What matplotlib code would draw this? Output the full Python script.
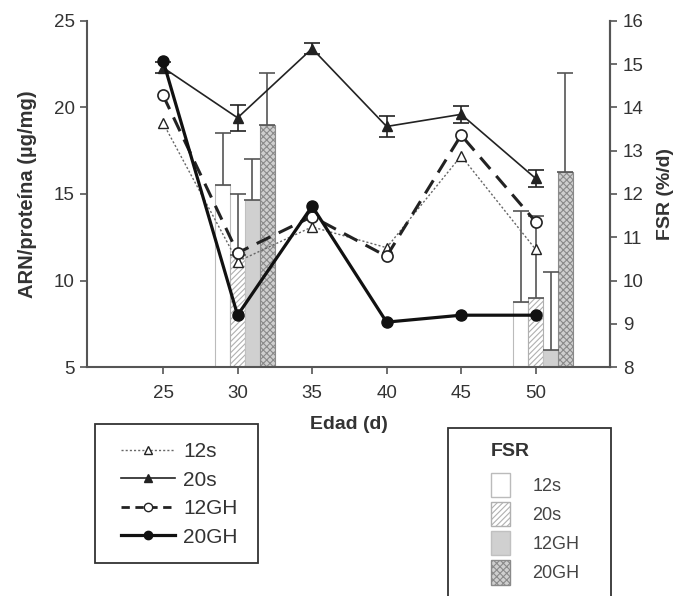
import matplotlib
matplotlib.use("Agg")
import matplotlib.pyplot as plt
from matplotlib.lines import Line2D
from matplotlib.patches import Patch, Rectangle

plt.rcParams['font.family'] = ['Liberation Sans', 'DejaVu Sans']
plt.rcParams['hatch.linewidth'] = 0.8

# ARN/proteína por edad (µg/mg)
ages = [25, 30, 35, 40, 45, 50]
arn_12s = [19.1, 11.1, 13.1, 11.9, 17.2, 11.8]
arn_20s = [22.3, 19.4, 23.4, 18.9, 19.6, 15.9]
arn_20s_err = [0.3, 0.75, 0.3, 0.6, 0.5, 0.5]
arn_12gh = [20.7, 11.6, 13.7, 11.4, 18.4, 13.4]
arn_20gh = [22.7, 8.0, 14.3, 7.6, 8.0, 8.0]

# FSR (%/d) a los 30 y 50 días
fsr_days = [30, 50]
fsr_12s = [12.2, 9.5]
fsr_12s_err = [1.2, 2.1]
fsr_20s = [10.6, 9.6]
fsr_20s_err = [1.4, 1.9]
fsr_12gh = [11.85, 8.4]
fsr_12gh_err = [0.95, 1.8]
fsr_20gh = [13.6, 12.5]
fsr_20gh_err = [1.2, 2.3]

group_labels = ['12s', '20s', '12GH', '20GH']

dark = '#222222'
axis_col = '#555555'
text_col = '#333333'

W, H = 691, 596
fig = plt.figure(figsize=(W / 100, H / 100), dpi=100)
ax = fig.add_axes([0.126, 0.384, 0.757, 0.581])
ax2 = ax.twinx()
ax.set_zorder(ax2.get_zorder() + 1)
ax.patch.set_visible(False)

# Barras FSR (eje derecho)
bar_w = 1.0
bar_specs = [
    (fsr_12s, fsr_12s_err, -1, dict(facecolor='white', edgecolor='#bbbbbb')),
    (fsr_20s, fsr_20s_err, 0, dict(facecolor='white', edgecolor='#b0b0b0', hatch='//////')),
    (fsr_12gh, fsr_12gh_err, 1, dict(facecolor='#d0d0d0', edgecolor='#c0c0c0')),
    (fsr_20gh, fsr_20gh_err, 2, dict(facecolor='#cfcfcf', edgecolor='#8a8a8a', hatch='xxxxx')),
]
for vals, errs, off, style in bar_specs:
    xs = [d + off for d in fsr_days]
    ax2.bar(xs, vals, width=bar_w, linewidth=0.8, **style)
    ax2.errorbar(xs, vals, yerr=[[0] * len(vals), errs], fmt='none',
                 ecolor='#555555', elinewidth=1.2, capsize=6, capthick=1.2)

ax2.set_ylim(8, 16)
ax2.set_yticks(range(8, 17))

# Líneas ARN/proteína (eje izquierdo)
ax.plot(ages, arn_12s, linestyle=(0, (1.5, 1.5)), color='#666666', lw=1.0,
        marker='^', ms=7, mfc='white', mec=dark, mew=1.0, zorder=3)
ax.errorbar(ages, arn_20s, yerr=arn_20s_err, color=dark, lw=1.2,
            marker='^', ms=7, mfc=dark, mec=dark, capsize=6, elinewidth=1.2,
            capthick=1.2, zorder=4)
ax.plot(ages, arn_12gh, linestyle=(0, (5, 3)), color=dark, lw=2.2,
        marker='o', ms=8, mfc='white', mec=dark, mew=1.2, zorder=5)
ax.plot(ages, arn_20gh, linestyle='-', color='#111111', lw=2.3,
        marker='o', ms=8, mfc='#111111', mec='#111111', zorder=6)

ax.set_xlim(19.9, 55)
ax.set_ylim(5, 25)
ax.set_xticks(ages)
ax.set_yticks([5, 10, 15, 20, 25])

for a in (ax, ax2):
    a.spines['top'].set_visible(False)
    for s in a.spines.values():
        s.set_color(axis_col)
        s.set_linewidth(1.5)
    a.tick_params(colors=axis_col, labelcolor=text_col, labelsize=13.5,
                  width=1.2, length=5, pad=4)
ax.tick_params(axis='x', pad=8)
ax2.spines['left'].set_visible(False)
ax2.spines['bottom'].set_visible(False)

ax.set_ylabel('ARN/proteína (µg/mg)', fontsize=14.5, fontweight='bold',
              color=text_col, labelpad=12)
ax2.set_ylabel('FSR (%/d)', fontsize=14, fontweight='bold', color=text_col,
               labelpad=10)
ax.set_xlabel('Edad (d)', fontsize=14, fontweight='bold', color=text_col,
              labelpad=10)

# Leyenda de las líneas
line_handles = [
    Line2D([], [], linestyle=(0, (1.5, 1.5)), color='#666666', lw=1.0, marker='^',
           ms=6, mfc='white', mec=dark),
    Line2D([], [], linestyle='-', color=dark, lw=1.2, marker='^', ms=6, mfc=dark, mec=dark),
    Line2D([], [], linestyle=(0, (3, 2)), color=dark, lw=2.0, marker='o', ms=6,
           mfc='white', mec=dark),
    Line2D([], [], linestyle='-', color='#111111', lw=2.3, marker='o', ms=6,
           mfc='#111111', mec='#111111'),
]
fig.patches.append(Rectangle((95 / W, 1 - 563 / H), 163 / W, 139 / H,
                             transform=fig.transFigure, facecolor='none',
                             edgecolor='#333333', linewidth=1.3))
leg1 = fig.legend(line_handles, group_labels, loc='upper left',
                  bbox_to_anchor=(121 / W, 1 - 442 / H), frameon=False,
                  fontsize=15, handlelength=2.6, handletextpad=0.4,
                  labelspacing=0.46, borderpad=0, borderaxespad=0)
for t in leg1.get_texts():
    t.set_color(text_col)

# Leyenda de las barras
bar_handles = [Patch(**s[3]) for s in bar_specs]
fig.patches.append(Rectangle((448 / W, -0.05), 163 / W, 1 - 428 / H + 0.05,
                             transform=fig.transFigure, facecolor='none',
                             edgecolor='#333333', linewidth=1.3))
leg2 = fig.legend(bar_handles, group_labels, loc='upper left',
                  bbox_to_anchor=(491 / W, 1 - 443 / H), frameon=False,
                  fontsize=13, handlelength=1.05, handleheight=1.7,
                  handletextpad=1.25, labelspacing=0.27, borderpad=0,
                  borderaxespad=0, title='FSR',
                  title_fontproperties={'weight': 'bold', 'size': 14},
                  alignment='left')
leg2._legend_box.sep = 9
for t in leg2.get_texts():
    t.set_color('#444444')
leg2.get_title().set_color(text_col)

fig.savefig('out.png', dpi=100)
